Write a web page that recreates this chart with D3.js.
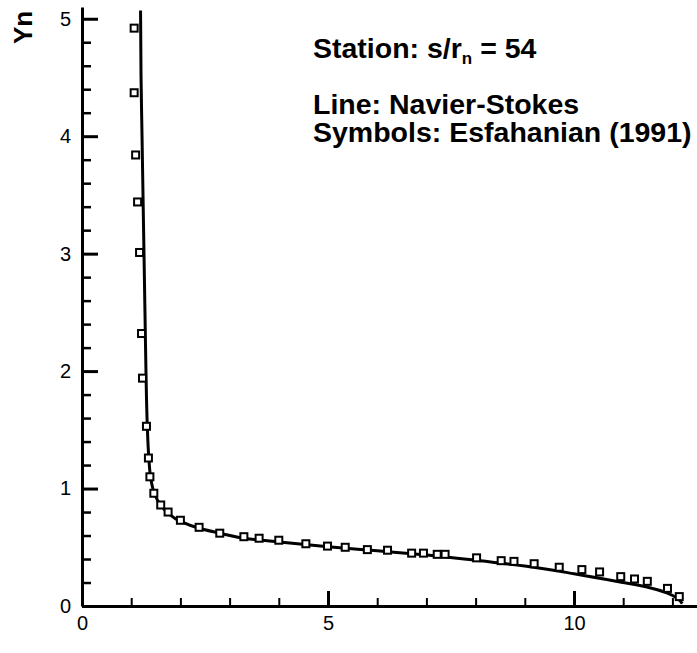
<!DOCTYPE html>
<html>
<head>
<meta charset="utf-8">
<script src="https://cdn.jsdelivr.net/npm/d3@7"></script>
<style>
body { margin: 0; background: #fff; }
text { font-family: "Liberation Sans", Arial, Helvetica, sans-serif; fill: #000; }
</style>
</head>
<body>
<div id="chart"></div>
<script>
// Navier-Stokes profile (line)
var lineX = [1.19, 1.20, 1.22, 1.24, 1.26, 1.28, 1.30, 1.33, 1.36, 1.40, 1.47, 1.58, 1.75, 2.0, 2.4, 2.8, 3.4, 4.0, 5.0, 6.0, 7.0, 8.0, 9.0, 10.0, 11.0, 11.5, 11.9, 12.1, 12.2];
var lineY = [5.07, 4.5, 4.0, 3.5, 3.0, 2.5, 2.0, 1.5, 1.25, 1.08, 0.96, 0.87, 0.79, 0.72, 0.66, 0.62, 0.57, 0.545, 0.505, 0.47, 0.435, 0.39, 0.34, 0.275, 0.20, 0.16, 0.11, 0.065, 0.02];

// Esfahanian (1991) symbols
var symX = [1.06, 1.06, 1.09, 1.13, 1.17, 1.21, 1.23, 1.31, 1.35, 1.38, 1.46, 1.60, 1.75, 2.0, 2.38, 2.80, 3.29, 3.60, 4.0, 4.55, 4.99, 5.35, 5.80, 6.21, 6.70, 6.94, 7.22, 7.38, 8.02, 8.52, 8.78, 9.19, 9.70, 10.16, 10.52, 10.95, 11.23, 11.49, 11.90, 12.14];
var symY = [4.92, 4.37, 3.84, 3.44, 3.01, 2.32, 1.94, 1.53, 1.26, 1.10, 0.96, 0.86, 0.80, 0.73, 0.67, 0.62, 0.59, 0.577, 0.56, 0.53, 0.51, 0.50, 0.48, 0.475, 0.45, 0.45, 0.44, 0.44, 0.41, 0.386, 0.38, 0.36, 0.33, 0.31, 0.29, 0.25, 0.23, 0.21, 0.15, 0.08];

var xMajor = [0, 5, 10];
var xMinor = [1, 2, 3, 4, 6, 7, 8, 9, 11, 12];
var yMajor = [0, 1, 2, 3, 4, 5];
var yMinor = d3.range(0.2, 5.01, 0.2).filter(function(v){ return Math.abs(v - Math.round(v)) > 0.01; });

var width = 697, height = 653;

var svg = d3.select("#chart").append("svg")
.attr("width", width)
.attr("height", height);

var x = d3.scaleLinear().domain([0, 12.5]).range([82, 697]);
var y = d3.scaleLinear().domain([0, 5.1]).range([606, 7]);

// minor ticks
svg.append("g")
.attr("transform", "translate(0,606)")
.call(d3.axisBottom(x).tickValues(xMinor).tickSize(-8).tickFormat("").tickSizeOuter(0))
.call(function(g){ g.select(".domain").remove(); })
.selectAll("line").attr("stroke-width", 2);

svg.append("g")
.attr("transform", "translate(82,0)")
.call(d3.axisLeft(y).tickValues(yMinor).tickSize(-9).tickFormat("").tickSizeOuter(0))
.call(function(g){ g.select(".domain").remove(); })
.selectAll("line").attr("stroke-width", 2.5);

// major ticks with labels
var xAxis = svg.append("g")
.attr("transform", "translate(0,606)")
.call(d3.axisBottom(x).tickValues(xMajor).tickSize(-15).tickPadding(10).tickSizeOuter(0).tickFormat(d3.format("d")));
xAxis.select(".domain").attr("stroke-width", 3);
xAxis.selectAll("line").attr("stroke-width", 3);
xAxis.selectAll("text").style("font-size", "20px").attr("fill", "#000");

var yAxis = svg.append("g")
.attr("transform", "translate(82,0)")
.call(d3.axisLeft(y).tickValues(yMajor).tickSize(-16).tickPadding(11).tickSizeOuter(0).tickFormat(d3.format("d")));
yAxis.select(".domain").attr("stroke-width", 3);
yAxis.selectAll("line").attr("stroke-width", 3);
yAxis.selectAll("text").style("font-size", "20px").attr("fill", "#000");

// y axis title
svg.append("text")
.attr("transform", "translate(32,44) rotate(-90)")
.style("font-size", "26px")
.style("font-weight", "bold")
.text("Yn");

// Navier-Stokes line
var lineData = lineX.map(function(v, i){ return [v, lineY[i]]; });
svg.append("path")
.datum(lineData)
.attr("fill", "none")
.attr("stroke", "#000")
.attr("stroke-width", 3)
.attr("d", d3.line().curve(d3.curveMonotoneY).x(function(d){ return x(d[0]); }).y(function(d){ return y(d[1]); }));

// symbols
svg.append("g")
.selectAll("rect")
.data(symX.map(function(v, i){ return [v, symY[i]]; }))
.enter().append("rect")
.attr("x", function(d){ return x(d[0]) - 3.5; })
.attr("y", function(d){ return y(d[1]) - 3.5; })
.attr("width", 7)
.attr("height", 7)
.attr("fill", "#fff")
.attr("stroke", "#000")
.attr("stroke-width", 2);

// annotations
var station = svg.append("text")
.attr("x", 313)
.attr("y", 58)
.style("font-size", "28.5px")
.style("font-weight", "bold");
station.append("tspan").text("Station: s/r");
station.append("tspan").attr("dy", 6).style("font-size", "17px").text("n");
station.append("tspan").attr("dy", -6).text(" = 54");

svg.append("text")
.attr("x", 313)
.attr("y", 114)
.style("font-size", "28.5px")
.style("font-weight", "bold")
.text("Line: Navier-Stokes");

svg.append("text")
.attr("x", 313)
.attr("y", 142)
.style("font-size", "28.5px")
.style("font-weight", "bold")
.text("Symbols: Esfahanian (1991)");
</script>
</body>
</html>
